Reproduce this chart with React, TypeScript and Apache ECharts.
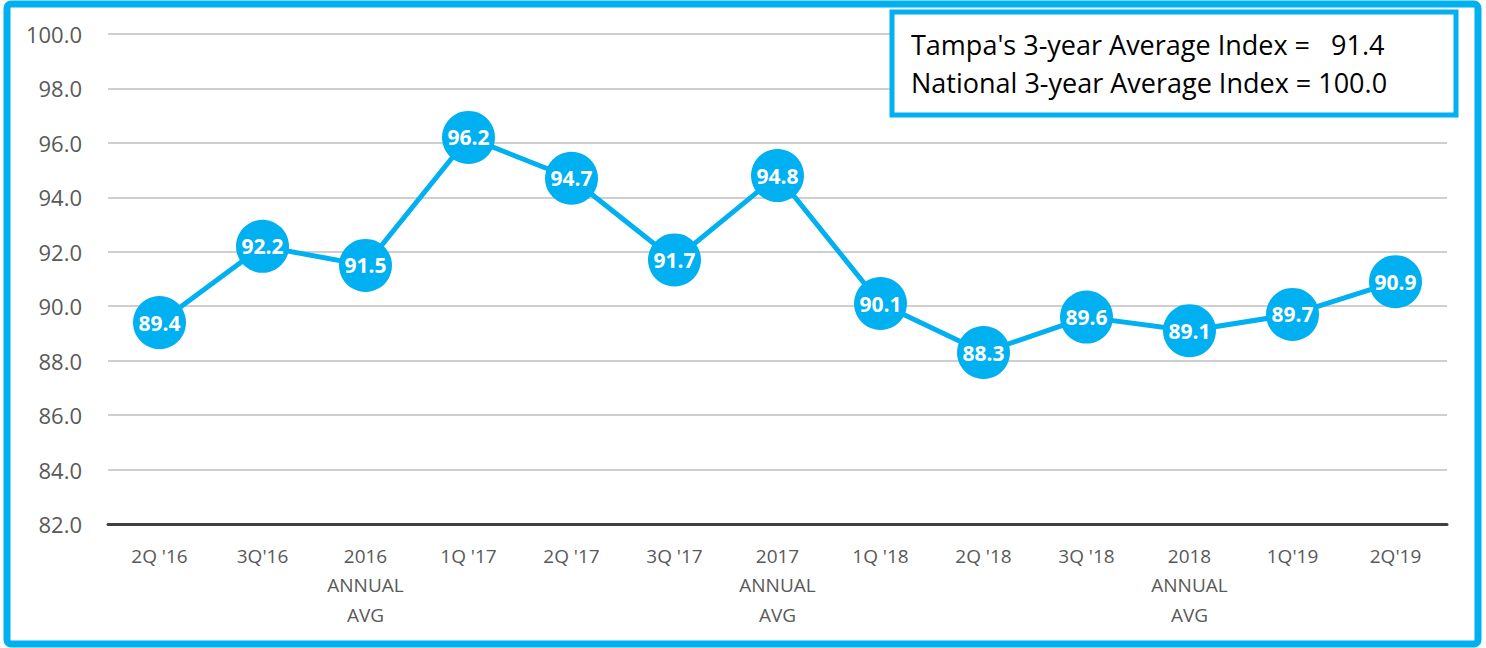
import React, { useEffect, useRef } from "react";
import * as echarts from "echarts";

const categories = [
  "2Q '16", "3Q'16", "2016\nANNUAL\nAVG", "1Q '17", "2Q '17", "3Q '17",
  "2017\nANNUAL\nAVG", "1Q '18", "2Q '18", "3Q '18", "2018\nANNUAL\nAVG", "1Q'19", "2Q'19",
];
const values = [89.4, 92.2, 91.5, 96.2, 94.7, 91.7, 94.8, 90.1, 88.3, 89.6, 89.1, 89.7, 90.9];
const infoLines = ["Tampa's 3-year Average Index =   91.4", "National 3-year Average Index = 100.0"];

const BLUE = "#00B0F0";

export default function App() {
  const ref = useRef<HTMLDivElement>(null);
  useEffect(() => {
    document.body.style.margin = "0";
    const chart = echarts.init(ref.current!, null, { renderer: "svg" });
    chart.setOption({
      animation: false,
      backgroundColor: "#ffffff",
      grid: { left: 108, right: 39, top: 34, bottom: 124, containLabel: false },
      xAxis: {
        type: "category",
        data: categories,
        boundaryGap: true,
        axisLine: { show: true, lineStyle: { color: "#404040", width: 3 } },
        axisTick: { show: false },
        axisLabel: {
          color: "#595959",
          fontFamily: "Open Sans",
          fontSize: 19,
          lineHeight: 29.5,
          margin: 17,
          interval: 0,
        },
      },
      yAxis: {
        type: "value",
        min: 82,
        max: 100,
        interval: 2,
        axisLine: { show: false },
        axisTick: { show: false },
        axisLabel: {
          color: "#595959",
          fontFamily: "Open Sans",
          fontSize: 22,
          margin: 26,
          formatter: (v: number) => v.toFixed(1),
        },
        splitLine: { lineStyle: { color: "#BFBFBF", width: 1.5 } },
      },
      series: [
        {
          type: "line",
          data: values,
          symbol: "circle",
          symbolSize: 53,
          lineStyle: { color: BLUE, width: 5 },
          itemStyle: { color: BLUE },
          label: {
            show: true,
            position: "inside",
            color: "#ffffff",
            fontFamily: "Open Sans",
            fontWeight: "bold",
            fontSize: 21,
            formatter: (p: any) => p.value.toFixed(1),
          },
        },
      ],
      graphic: [
        {
          type: "rect",
          shape: { x: 7, y: 4, width: 1471, height: 640, r: 4 },
          style: { fill: "none", stroke: BLUE, lineWidth: 7 },
          z: 100,
        },
        {
          type: "rect",
          shape: { x: 892, y: 12, width: 564, height: 103 },
          style: { fill: "#ffffff", stroke: BLUE, lineWidth: 5 },
          z: 100,
        },
        {
          type: "text",
          x: 911,
          y: 44,
          style: {
            text: infoLines[0],
            fill: "#000000",
            font: "27px 'Open Sans'",
            verticalAlign: "middle",
          },
          z: 101,
        },
        {
          type: "text",
          x: 911,
          y: 82,
          style: {
            text: infoLines[1],
            fill: "#000000",
            font: "27px 'Open Sans'",
            verticalAlign: "middle",
          },
          z: 101,
        },
      ],
    });
    return () => chart.dispose();
  }, []);
  return <div ref={ref} style={{ width: 1486, height: 648 }} />;
}
